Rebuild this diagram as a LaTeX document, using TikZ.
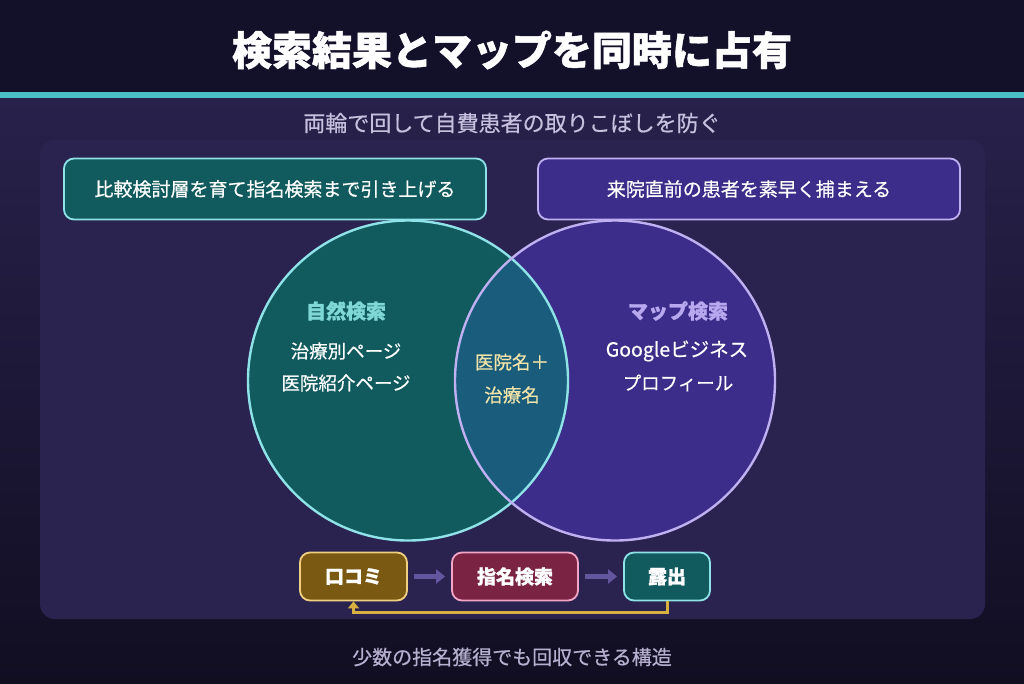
\documentclass[tikz,border=0pt]{standalone}
\usepackage{fontspec}
\setmainfont{Noto Sans CJK JP}
\newfontfamily\heavy{Noto Sans CJK JP}[BoldFeatures={FakeBold=1.2}]
\newfontfamily\med{Noto Sans CJK JP}[FakeBold=0.5]
\usetikzlibrary{arrows.meta,calc}
\definecolor{topdark}{HTML}{13102A}
\definecolor{tealline}{HTML}{4BBFC6}
\definecolor{bgpurple}{HTML}{28214B}
\definecolor{bgdark}{HTML}{110E22}
\definecolor{panel}{HTML}{2A2350}
\definecolor{tealfill}{HTML}{115A5E}
\definecolor{tealstroke}{HTML}{8FE3E8}
\definecolor{violfill}{HTML}{3D2D8A}
\definecolor{violstroke}{HTML}{BFB0F2}
\definecolor{lensfill}{HTML}{195C7C}
\definecolor{subtxt}{HTML}{C6C0DE}
\definecolor{foottxt}{HTML}{B6AFD0}
\definecolor{tealhead}{HTML}{7FD8D6}
\definecolor{violhead}{HTML}{B8A8F0}
\definecolor{cream}{HTML}{F2E4A8}
\definecolor{brownfill}{HTML}{7A5A12}
\definecolor{brownstroke}{HTML}{F0D080}
\definecolor{maroonfill}{HTML}{7A2343}
\definecolor{pinkstroke}{HTML}{F2A6C6}
\definecolor{flowarrow}{HTML}{64559F}
\definecolor{gold}{HTML}{D8B040}
\tikzset{
  topbox/.style={draw, line width=1.8pt, rounded corners=10pt, minimum width=422pt, minimum height=61pt, text=white, font=\med\fontsize{19}{23}\selectfont},
  flowbox/.style={draw, line width=1.8pt, rounded corners=10pt, minimum height=48pt, text=white, font=\heavy\fontsize{19}{23}\selectfont\bfseries},
  circlabel/.style={font=\med\fontsize{18.5}{22}\selectfont, text=white},
  circhead/.style={font=\heavy\fontsize{20}{24}\selectfont\bfseries},
  flowarr/.style={draw=flowarrow, line width=5pt, -{Triangle[length=9pt,width=14pt]}},
  venn/.style={circle, minimum size=320pt, inner sep=0pt}
}
\begin{document}
\begin{tikzpicture}[x=1pt,y=-1pt]
\useasboundingbox (0,0) rectangle (1024,683);
% background
\fill[topdark] (0,0) rectangle (1024,92);
\shade[top color=bgpurple, bottom color=bgdark] (0,97) rectangle (1024,683);
\fill[tealline] (0,92) rectangle (1024,97.5);
\fill[panel] (40,140) [rounded corners=15pt] rectangle (985,619);
% title
\node[font=\heavy\fontsize{40}{46}\selectfont\bfseries, text=white] (title) at (512,50) {検索結果とマップを同時に占有};
\node[font=\med\fontsize{22}{26}\selectfont, text=subtxt] (sub) at (512,123) {両輪で回して自費患者の取りこぼしを防ぐ};
% top boxes
\node[topbox, fill=tealfill, draw=tealstroke] (tl) at (275,189) {比較検討層を育て指名検索まで引き上げる};
\node[topbox, fill=violfill, draw=violstroke] (tr) at (749,189) {来院直前の患者を素早く捕まえる};
% venn
\node[venn, fill=tealfill] (L) at (408,380.5) {};
\node[venn, fill=violfill] (R) at (615,380.5) {};
\begin{scope}
  \clip (L.center) circle (160pt);
  \fill[lensfill] (R.center) circle (160pt);
\end{scope}
\draw[tealstroke, line width=2.4pt] (L.center) circle (160pt);
\draw[violstroke, line width=2.4pt] (R.center) circle (160pt);
% circle texts
\node[circhead, text=tealhead] (lh) at (346,311) {自然検索};
\node[circlabel] (l1) at (346,351) {治療別ページ};
\node[circlabel] (l2) at (346,383) {医院紹介ページ};
\node[circlabel, text=cream] (m1) at (512,362) {医院名＋};
\node[circlabel, text=cream] (m2) at (512,395) {治療名};
\node[circhead, text=violhead] (rh) at (678,311) {マップ検索};
\node[circlabel, font=\med\fontsize{19.5}{22}\selectfont] (r1) at (677,351) {Googleビジネス};
\node[circlabel] (r2) at (678,383) {プロフィール};
% flow
\node[flowbox, fill=brownfill, draw=brownstroke, minimum width=107pt] (K) at (353.5,576.5) {口コミ};
\node[flowbox, fill=maroonfill, draw=pinkstroke, minimum width=126pt] (S) at (515,576.5) {指名検索};
\node[flowbox, fill=tealfill, draw=tealstroke, minimum width=86pt] (E) at (667,576.5) {露出};
\draw[flowarr] ($(K.east)+(6,0)$) -- ($(S.west)+(-6,0)$);
\draw[flowarr] ($(S.east)+(6,0)$) -- ($(E.west)+(-6,0)$);
\draw[gold, line width=3pt, -{Triangle[length=7pt,width=11pt]}] (E.south) -- ++(0,11) -| (K.south);
% footer
\node[font=\med\fontsize{20}{24}\selectfont, text=foottxt] (foot) at (512,657) {少数の指名獲得でも回収できる構造};
\end{tikzpicture}
\end{document}
